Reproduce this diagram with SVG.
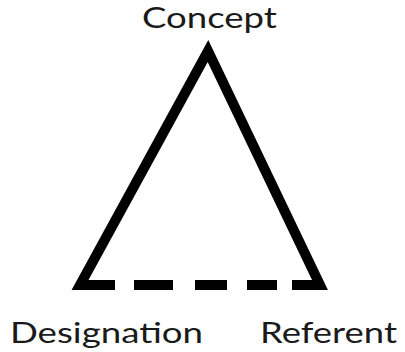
<svg xmlns="http://www.w3.org/2000/svg" width="405" height="352" viewBox="0 0 405 352">
<style>
.t{font-family:Lato,"Open Sans",sans-serif;font-size:28px;fill:#1a1a1a}
.s{fill:none;stroke:#000;stroke-width:10}
</style>
<rect width="405" height="352" fill="#fff"/>
<g id="connectors">
<path class="s" d="M115,285 L80,285 L208,51 L320,285 L292,285" stroke-linejoin="miter" stroke-miterlimit="10"/>
<path class="s" d="M134,285 H173 M195,285 H227 M247,285 H277"/>
</g>
<g id="concept"><text class="t" x="142" y="28" font-size="27" textLength="135" lengthAdjust="spacingAndGlyphs">Concept</text></g>
<g id="designation"><text class="t" x="10" y="343" textLength="193" lengthAdjust="spacingAndGlyphs">Designation</text></g>
<g id="referent"><text class="t" x="260" y="343" textLength="137" lengthAdjust="spacingAndGlyphs">Referent</text></g>
</svg>
